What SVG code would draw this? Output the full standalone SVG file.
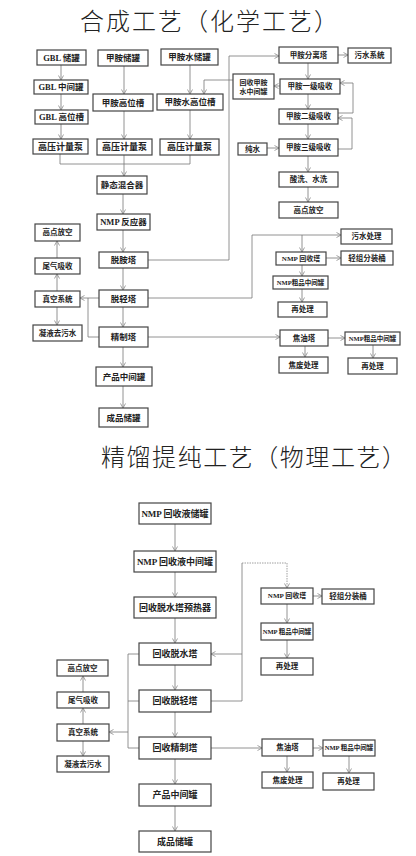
<svg xmlns="http://www.w3.org/2000/svg" width="416" height="856" viewBox="0 0 416 856">
<style>
.b{fill:#fff;stroke:#444;stroke-width:1.2}
.t{font-family:"Liberation Serif","Noto Sans CJK SC",serif;font-weight:bold;fill:#222;text-anchor:middle}
.s9{font-size:9px}.s85{font-size:8.5px}.s75{font-size:7.5px}.s7{font-size:7px}.s65{font-size:6.5px}
.title{font-family:"Noto Sans CJK SC",sans-serif;font-size:24px;font-weight:300;fill:#222}
.c{fill:none;stroke:#777;stroke-width:0.8}
.d{fill:none;stroke:#888;stroke-width:0.8;stroke-dasharray:1.5 1}
</style>
<defs>
<marker id="a" viewBox="0 0 6 6" refX="5.5" refY="3" markerWidth="6" markerHeight="6" markerUnits="userSpaceOnUse" orient="auto">
<path d="M1,0.5 L5.5,3 L1,5.5" fill="none" stroke="#888" stroke-width="0.8"/>
</marker>
</defs>
<rect width="416" height="856" fill="#fff"/>
<text class="title" x="80" y="30" textLength="258">合成工艺（化学工艺）</text>
<text class="title" x="101" y="466" textLength="305">精馏提纯工艺（物理工艺）</text>

<g id="connectors">
<path class="c" marker-end="url(#a)" d="M61,65V80"/>
<path class="c" marker-end="url(#a)" d="M61,94V110"/>
<path class="c" marker-end="url(#a)" d="M61,124V139"/>
<path class="c" marker-end="url(#a)" d="M124,66V94"/>
<path class="c" marker-end="url(#a)" d="M124,111V139"/>
<path class="c" marker-end="url(#a)" d="M190,65V94"/>
<path class="c" marker-end="url(#a)" d="M190,110V139"/>
<path class="c" d="M60,154V164H190V155"/>
<path class="c" marker-end="url(#a)" d="M124,155V176"/>
<path class="c" marker-end="url(#a)" d="M123,194V214"/>
<path class="c" marker-end="url(#a)" d="M123,230V252"/>
<path class="c" marker-end="url(#a)" d="M123,268V290"/>
<path class="c" marker-end="url(#a)" d="M123,307V327"/>
<path class="c" marker-end="url(#a)" d="M123,347V367"/>
<path class="c" marker-end="url(#a)" d="M123,386V408"/>
<path class="c" marker-end="url(#a)" d="M148,260H229V56H279"/>
<path class="c" marker-end="url(#a)" d="M338,55H348"/>
<path class="c" marker-end="url(#a)" d="M308,63V79"/>
<path class="c" marker-end="url(#a)" d="M280,86H274"/>
<path class="c" marker-end="url(#a)" d="M233,80H204V94"/>
<path class="c" marker-end="url(#a)" d="M308,94V109"/>
<path class="c" marker-end="url(#a)" d="M308,124V139"/>
<path class="c" marker-end="url(#a)" d="M308,156V172"/>
<path class="c" marker-end="url(#a)" d="M308,187V202"/>
<path class="c" marker-end="url(#a)" d="M338,113H353V83H340"/>
<path class="c" marker-end="url(#a)" d="M338,149H352V118H338"/>
<path class="c" marker-end="url(#a)" d="M267,148H279"/>
<path class="c" marker-end="url(#a)" d="M148,298H252V235H341"/>
<path class="c" marker-end="url(#a)" d="M302,235V252"/>
<path class="c" marker-end="url(#a)" d="M326,258H341"/>
<path class="c" marker-end="url(#a)" d="M302,265V276"/>
<path class="c" marker-end="url(#a)" d="M302,289V302"/>
<path class="c" marker-end="url(#a)" d="M148,337H280"/>
<path class="c" marker-end="url(#a)" d="M328,338H345"/>
<path class="c" marker-end="url(#a)" d="M305,346V357"/>
<path class="c" marker-end="url(#a)" d="M373,345V358"/>
<path class="c" marker-end="url(#a)" d="M99,298H80"/>
<path class="c" d="M88,298V337H99"/>
<path class="c" marker-end="url(#a)" d="M57,291V274"/>
<path class="c" marker-end="url(#a)" d="M57,258V241"/>
<path class="c" marker-end="url(#a)" d="M57,307V325"/>

<path class="c" marker-end="url(#a)" d="M175,524V551"/>
<path class="c" marker-end="url(#a)" d="M175,572V597"/>
<path class="c" marker-end="url(#a)" d="M175,618V643"/>
<path class="c" marker-end="url(#a)" d="M175,665V690"/>
<path class="c" marker-end="url(#a)" d="M175,712V737"/>
<path class="c" marker-end="url(#a)" d="M175,759V784"/>
<path class="c" marker-end="url(#a)" d="M175,806V831"/>
<path class="c" d="M139,654H128V748H139M128,701H139"/>
<path class="c" marker-end="url(#a)" d="M128,732H109"/>
<path class="c" marker-end="url(#a)" d="M83,724V708"/>
<path class="c" marker-end="url(#a)" d="M83,692V676"/>
<path class="c" marker-end="url(#a)" d="M83,741V756"/>
<path class="c" d="M211,701H242V563"/>
<path class="d" marker-end="url(#a)" d="M242,563H287V588"/>
<path class="c" marker-end="url(#a)" d="M242,654H211"/>
<path class="c" marker-end="url(#a)" d="M313,596H322"/>
<path class="c" marker-end="url(#a)" d="M287,604V623"/>
<path class="c" marker-end="url(#a)" d="M287,640V658"/>
<path class="c" marker-end="url(#a)" d="M211,748H262"/>
<path class="c" marker-end="url(#a)" d="M313,748H323"/>
<path class="c" marker-end="url(#a)" d="M287,756V772"/>
<path class="c" marker-end="url(#a)" d="M349,756V773"/>
</g>

<g id="gbl1"><rect class="b" x="37" y="50" width="49" height="15"/><text class="t s85" x="61.5" y="60.5">GBL 储罐</text></g>
<g id="gbl2"><rect class="b" x="34" y="80" width="54" height="14"/><text class="t s85" x="61" y="90">GBL 中间罐</text></g>
<g id="gbl3"><rect class="b" x="35" y="110" width="53" height="14"/><text class="t s85" x="61.5" y="120">GBL 高位槽</text></g>
<g id="pump1"><rect class="b" x="33" y="139" width="55" height="15"/><text class="t s9" x="60.5" y="149.5">高压计量泵</text></g>
<g id="ma1"><rect class="b" x="98" y="50" width="50" height="16"/><text class="t s85" x="123" y="61">甲胺储罐</text></g>
<g id="ma2"><rect class="b" x="93" y="94" width="60" height="17"/><text class="t s85" x="123" y="105.5">甲胺高位槽</text></g>
<g id="pump2"><rect class="b" x="97" y="139" width="55" height="16"/><text class="t s9" x="124.5" y="150">高压计量泵</text></g>
<g id="maw1"><rect class="b" x="161" y="49" width="57" height="16"/><text class="t s85" x="189.5" y="60">甲胺水储罐</text></g>
<g id="maw2"><rect class="b" x="157" y="94" width="66" height="16"/><text class="t s85" x="190" y="105">甲胺水高位槽</text></g>
<g id="pump3"><rect class="b" x="160" y="139" width="59" height="16"/><text class="t s9" x="189.5" y="150">高压计量泵</text></g>
<g id="mixer"><rect class="b" x="97" y="176" width="50" height="18"/><text class="t s85" x="122" y="188">静态混合器</text></g>
<g id="reactor"><rect class="b" x="97" y="214" width="53" height="16"/><text class="t s85" x="123.5" y="225">NMP 反应器</text></g>
<g id="deamine"><rect class="b" x="99" y="252" width="49" height="16"/><text class="t s85" x="123.5" y="263">脱胺塔</text></g>
<g id="delight"><rect class="b" x="99" y="290" width="49" height="17"/><text class="t s85" x="123.5" y="301.5">脱轻塔</text></g>
<g id="refine"><rect class="b" x="99" y="327" width="49" height="20"/><text class="t s85" x="123.5" y="340">精制塔</text></g>
<g id="prodmid"><rect class="b" x="96" y="367" width="56" height="19"/><text class="t s85" x="124" y="379.5">产品中间罐</text></g>
<g id="product"><rect class="b" x="99" y="408" width="49" height="19"/><text class="t s85" x="123.5" y="420.5">成品储罐</text></g>
<g id="vent1"><rect class="b" x="35" y="224" width="45" height="17"/><text class="t s75" x="57.5" y="235">高点放空</text></g>
<g id="tail1"><rect class="b" x="35" y="258" width="45" height="16"/><text class="t s75" x="57.5" y="268.6">尾气吸收</text></g>
<g id="vac1"><rect class="b" x="35" y="291" width="45" height="16"/><text class="t s75" x="57.5" y="301.6">真空系统</text></g>
<g id="cond1"><rect class="b" x="33" y="325" width="49" height="16"/><text class="t s75" x="57.5" y="335.6">凝液去污水</text></g>
<g id="sep"><rect class="b" x="279" y="47" width="59" height="16"/><text class="t s75" x="308.5" y="57.6">甲胺分离塔</text></g>
<g id="sewage"><rect class="b" x="348" y="48" width="43" height="15"/><text class="t s75" x="369.5" y="58.1">污水系统</text></g>
<g id="recw"><rect class="b" x="233" y="74" width="41" height="25"/><text class="t s7" x="253.5" y="84.5">回收甲胺</text><text class="t s7" x="253.5" y="94">水中间罐</text></g>
<g id="abs1"><rect class="b" x="280" y="79" width="60" height="15"/><text class="t s75" x="310" y="89">甲胺一级吸收</text></g>
<g id="abs2"><rect class="b" x="279" y="109" width="59" height="15"/><text class="t s75" x="308.5" y="119">甲胺二级吸收</text></g>
<g id="abs3"><rect class="b" x="279" y="139" width="59" height="17"/><text class="t s75" x="308.5" y="150">甲胺三级吸收</text></g>
<g id="pure"><rect class="b" x="238" y="143" width="29" height="12"/><text class="t s75" x="252.5" y="151.6">纯水</text></g>
<g id="wash"><rect class="b" x="279" y="172" width="59" height="15"/><text class="t s75" x="308.5" y="182">酸洗、水洗</text></g>
<g id="vent2"><rect class="b" x="279" y="202" width="59" height="16"/><text class="t s75" x="308.5" y="212.6">高点放空</text></g>
<g id="sewtreat"><rect class="b" x="341" y="229" width="51" height="15"/><text class="t s75" x="366.5" y="239">污水处理</text></g>
<g id="nmprec"><rect class="b" x="276" y="252" width="50" height="13"/><text class="t s7" x="301" y="261">NMP 回收塔</text></g>
<g id="light"><rect class="b" x="341" y="251" width="52" height="14"/><text class="t s75" x="367" y="260.6">轻组分装桶</text></g>
<g id="crude1"><rect class="b" x="273" y="276" width="55" height="13"/><text class="t s65" x="300.5" y="284.8">NMP粗品中间罐</text></g>
<g id="retreat1"><rect class="b" x="278" y="302" width="49" height="15"/><text class="t s75" x="302.5" y="312">再处理</text></g>
<g id="tar"><rect class="b" x="280" y="330" width="48" height="16"/><text class="t s75" x="304" y="340.6">焦油塔</text></g>
<g id="crude2"><rect class="b" x="345" y="332" width="55" height="13"/><text class="t s65" x="372.5" y="340.8">NMP粗品中间罐</text></g>
<g id="waste"><rect class="b" x="279" y="357" width="49" height="16"/><text class="t s75" x="303.5" y="367.6">焦废处理</text></g>
<g id="retreat2"><rect class="b" x="348" y="358" width="49" height="16"/><text class="t s75" x="372.5" y="368.6">再处理</text></g>

<g id="b_store"><rect class="b" x="139" y="503" width="72" height="21"/><text class="t s9" x="175" y="516.7">NMP 回收液储罐</text></g>
<g id="b_mid"><rect class="b" x="134" y="551" width="82" height="21"/><text class="t s9" x="175" y="564.7">NMP 回收液中间罐</text></g>
<g id="b_pre"><rect class="b" x="134" y="597" width="82" height="21"/><text class="t s9" x="175" y="610.7">回收脱水塔预热器</text></g>
<g id="b_dew"><rect class="b" x="139" y="643" width="72" height="22"/><text class="t s9" x="175" y="657.2">回收脱水塔</text></g>
<g id="b_light"><rect class="b" x="139" y="690" width="72" height="22"/><text class="t s9" x="175" y="704.2">回收脱轻塔</text></g>
<g id="b_ref"><rect class="b" x="139" y="737" width="72" height="22"/><text class="t s9" x="175" y="751.2">回收精制塔</text></g>
<g id="b_prodmid"><rect class="b" x="139" y="784" width="72" height="22"/><text class="t s9" x="175" y="798.2">产品中间罐</text></g>
<g id="b_prod"><rect class="b" x="139" y="831" width="72" height="21"/><text class="t s9" x="175" y="844.7">成品储罐</text></g>
<g id="b_vent"><rect class="b" x="57" y="660" width="51" height="16"/><text class="t s75" x="82.5" y="670.6">高点放空</text></g>
<g id="b_tail"><rect class="b" x="57" y="692" width="52" height="16"/><text class="t s75" x="83" y="702.6">尾气吸收</text></g>
<g id="b_vac"><rect class="b" x="57" y="724" width="52" height="17"/><text class="t s75" x="83" y="735">真空系统</text></g>
<g id="b_cond"><rect class="b" x="57" y="756" width="52" height="16"/><text class="t s75" x="83" y="766.6">凝液去污水</text></g>
<g id="b_nmprec"><rect class="b" x="261" y="588" width="52" height="16"/><text class="t s7" x="287" y="598.4">NMP 回收塔</text></g>
<g id="b_lightc"><rect class="b" x="322" y="589" width="52" height="15"/><text class="t s75" x="348" y="599">轻组分装桶</text></g>
<g id="b_crude"><rect class="b" x="261" y="623" width="52" height="17"/><text class="t s65" x="287" y="633.8">NMP 粗品中间罐</text></g>
<g id="b_retreat"><rect class="b" x="261" y="658" width="52" height="17"/><text class="t s75" x="287" y="669">再处理</text></g>
<g id="b_tar"><rect class="b" x="262" y="739" width="51" height="17"/><text class="t s75" x="287.5" y="750">焦油塔</text></g>
<g id="b_crude2"><rect class="b" x="323" y="740" width="52" height="16"/><text class="t s65" x="349" y="750.3">NMP 粗品中间罐</text></g>
<g id="b_waste"><rect class="b" x="262" y="772" width="51" height="16"/><text class="t s75" x="287.5" y="782.6">焦废处理</text></g>
<g id="b_retreat2"><rect class="b" x="323" y="773" width="51" height="17"/><text class="t s75" x="348.5" y="784">再处理</text></g>
</svg>
